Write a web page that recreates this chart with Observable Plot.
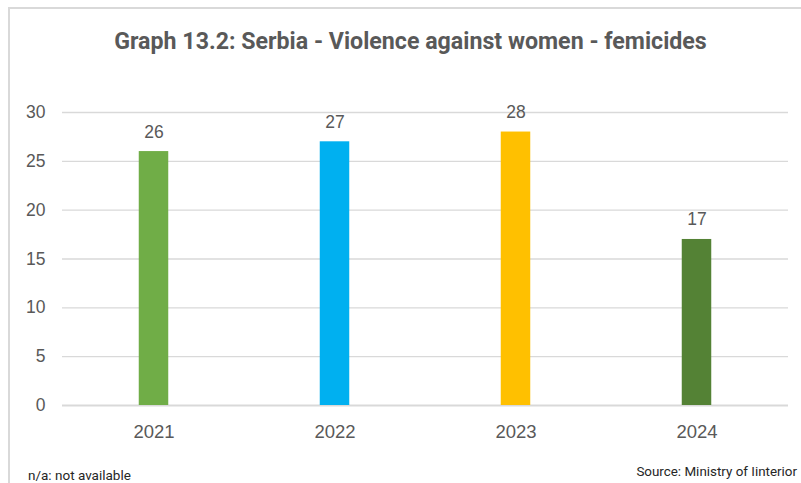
<!DOCTYPE html>
<html><head><meta charset="utf-8">
<script src="https://cdn.jsdelivr.net/npm/d3@7"></script>
<script src="https://cdn.jsdelivr.net/npm/@observablehq/plot@0.6"></script>
<style>
body{margin:0;background:#fff;}
#wrap{position:relative;width:801px;height:483px;overflow:hidden;background:#fff;}
#frame{position:absolute;left:8px;top:7px;width:800px;height:500px;border:2px solid #d9d9d9;box-sizing:border-box;}
#title{position:absolute;left:0;width:821px;top:27px;text-align:center;font:bold 23.2px Roboto,sans-serif;color:#595959;}
#chart{position:absolute;left:0;top:0;}
#note{position:absolute;left:28px;top:467px;font:13.5px Roboto,sans-serif;color:#262626;}
#src{position:absolute;right:4px;top:464px;font:13.4px Roboto,sans-serif;color:#262626;}
</style></head>
<body><div id="wrap"><div id="frame"></div><div id="title">Graph 13.2: Serbia - Violence against women - femicides</div><div id="chart"></div><div id="note">n/a: not available</div><div id="src">Source: Ministry of Iinterior</div></div>
<script>
const years = ["2021","2022","2023","2024"];
const values = [26,27,28,17];
const colors = ["#70AD47","#00B0F0","#FFC000","#548235"];
const yTicks = [0,5,10,15,20,25,30];
const data = years.map((y,i)=>({year:y,value:values[i],color:colors[i]}));
const plot = Plot.plot({
  width:801, height:483,
  marginLeft:62, marginRight:13, marginTop:112, marginBottom:78,
  style:{fontFamily:"'Liberation Sans',Arial,sans-serif",fontSize:"17.5px",color:"#595959",background:"transparent"},
  x:{domain:years,padding:0,label:null,tickSize:0,tickPadding:19},
  y:{domain:[0,30],ticks:yTicks,label:null,tickSize:0,tickPadding:17},
  marks:[
    Plot.gridY(yTicks.filter(t=>t>0),{stroke:"#d9d9d9",strokeOpacity:1,strokeWidth:1.3}),
    Plot.ruleY([0],{stroke:"#d9d9d9",strokeWidth:1.8}),
    Plot.barY(data,{x:"year",y:"value",fill:"color",insetLeft:75.75,insetRight:75.75}),
    Plot.axisX({tickSize:0,tickPadding:19,fontSize:18.5,fill:"#595959"}),
    Plot.text(data,{x:"year",y:"value",text:d=>String(d.value),dy:-14,lineAnchor:"bottom",fill:"#595959",fontSize:17.5})
  ]
});
document.getElementById("chart").appendChild(plot);
</script></body></html>
